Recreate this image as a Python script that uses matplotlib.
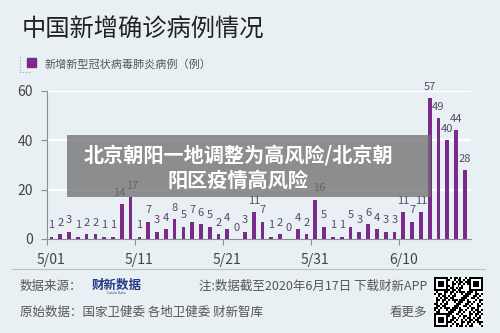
import matplotlib
matplotlib.use('Agg')
import matplotlib.pyplot as plt
import numpy as np
from matplotlib.patches import Rectangle
from matplotlib.lines import Line2D

plt.rcParams['font.family'] = ['Noto Sans CJK SC', 'DejaVu Sans']

# data: daily new cases, 5/01 - 6/17
values = [1, 2, 3, 1, 2, 2, 1, 1, 14, 17,
          1, 7, 3, 4, 8, 5, 7, 6, 5, 2,
          4, 0, 3, 11, 7, 1, 2, 0, 4, 2,
          16, 5, 1, 1, 5, 3, 6, 4, 3, 3,
          11, 7, 11, 57, 49, 40, 44, 28]
tick_labels = ['5/01', '5/11', '5/21', '5/31', '6/10']
tick_idx = [0, 10, 20, 30, 40]
y_ticks = [0, 20, 40, 60]

title = '中国新增确诊病例情况'
legend_label = '新增新型冠状病毒肺炎病例（例）'
banner_lines = ['北京朝阳一地调整为高风险/北京朝', '阳区疫情高风险']

BG = '#e9f0f4'
BAR = '#7a2a8a'
LBL = '#5a4868'
W, H = 500, 333

# small sideways nudges (points) so crowded labels don't collide
nudge = {8: -2.0, 9: 1.5, 30: 2.5}


def fx(x):
    return x / W


def fy(y):
    return 1 - y / H


fig = plt.figure(figsize=(5, 3.33), dpi=100, facecolor=BG)

ax = fig.add_axes([fx(47), fy(239), fx(471) - fx(47), fy(91) - fy(239)])
ax.set_facecolor(BG)
x = np.arange(len(values))
ax.bar(x, values, width=0.42, color=BAR, zorder=3)
for xi, v in zip(x, values):
    ax.annotate(str(v), (xi, v), xytext=(nudge.get(xi, 0), 4.5),
                textcoords='offset points',
                ha='center', va='bottom', fontsize=8, color=LBL,
                clip_on=False, zorder=4)

ax.set_xlim(-0.5, 47.7)
ax.set_ylim(0, 60)
for yv in y_ticks[1:]:
    ax.axhline(yv, color='white', lw=1.6, zorder=1)

for s in ['top', 'right']:
    ax.spines[s].set_visible(False)
ax.spines['left'].set_color('#8a8f95')
ax.spines['bottom'].set_color('#8a8f95')
ax.spines['left'].set_linewidth(0.8)
ax.spines['bottom'].set_linewidth(0.8)

ax.set_yticks(y_ticks)
ax.tick_params(axis='y', length=4, width=0.8, color='#8a8f95', pad=6,
               labelsize=10, labelcolor='#444444')
ax.set_xticks(tick_idx)
ax.set_xticklabels(tick_labels)
ax.tick_params(axis='x', which='major', length=0, pad=10, labelsize=10,
               labelcolor='#444444')
ax.set_xticks([i - 0.5 for i in tick_idx], minor=True)
ax.tick_params(axis='x', which='minor', length=4, width=0.8, color='#8a8f95')

# title and legend
fig.text(fx(22), fy(30), title, fontsize=17.5, color='#222222', va='center', ha='left')
fig.patches.append(Rectangle((fx(27), fy(67)), fx(9), fy(58) - fy(67),
                             transform=fig.transFigure, color=BAR))
fig.lines.append(Line2D([fx(20), fx(20), fx(31)], [fy(57), fy(72), fy(72)],
                        transform=fig.transFigure, color='#9aa0a8', lw=0.8, ls=':'))
fig.text(fx(45), fy(64), legend_label, fontsize=8, color='#555555', va='center', ha='left')

# banner overlay
fig.patches.append(Rectangle((fx(67), fy(197)), fx(431) - fx(67), fy(135) - fy(197),
                             transform=fig.transFigure, facecolor='#6e6e6e',
                             alpha=0.76, zorder=5))
for line, yy in zip(banner_lines, [155, 180]):
    fig.text(fx(238), fy(yy), line, fontsize=14.5, fontweight='bold', color='white',
             ha='center', va='center', zorder=6)

# footer
fig.lines.append(Line2D([fx(12), fx(485)], [fy(269), fy(269)],
                        transform=fig.transFigure, color='#b8c0c8', lw=0.8))
fig.text(fx(20), fy(286), '数据来源：', fontsize=9, color='#555555', va='center')
fig.text(fx(92), fy(285), '财新数据', fontsize=9, fontweight='bold', color='#233a86', va='center')
fig.text(fx(116), fy(293), 'Caixin Data', fontsize=2.5, color='#233a86', va='center', ha='center')
fig.text(fx(427), fy(286), '注:数据截至2020年6月17日 下载财新APP', fontsize=9,
         color='#555555', va='center', ha='right')
fig.text(fx(20), fy(312), '原始数据：国家卫健委 各地卫健委 财新智库', fontsize=9,
         color='#555555', va='center')
fig.text(fx(427), fy(312), '看更多', fontsize=9, color='#555555', va='center', ha='right')

# qr code style block
qa = fig.add_axes([fx(434), fy(327), fx(49), fy(277) - fy(327)])
bits = np.unpackbits(np.frombuffer(('财新数据' * 7).encode('utf-8'), dtype=np.uint8))
grid = bits[:625].reshape(25, 25).astype(float)
for r, c in [(0, 0), (0, 18), (18, 0)]:
    grid[r:r + 7, c:c + 7] = 1
    grid[r + 1:r + 6, c + 1:c + 6] = 0
    grid[r + 2:r + 5, c + 2:c + 5] = 1
qa.imshow(1 - grid, cmap='gray', interpolation='nearest', aspect='auto')
qa.axis('off')

fig.savefig('out.png', dpi=100, facecolor=BG)
